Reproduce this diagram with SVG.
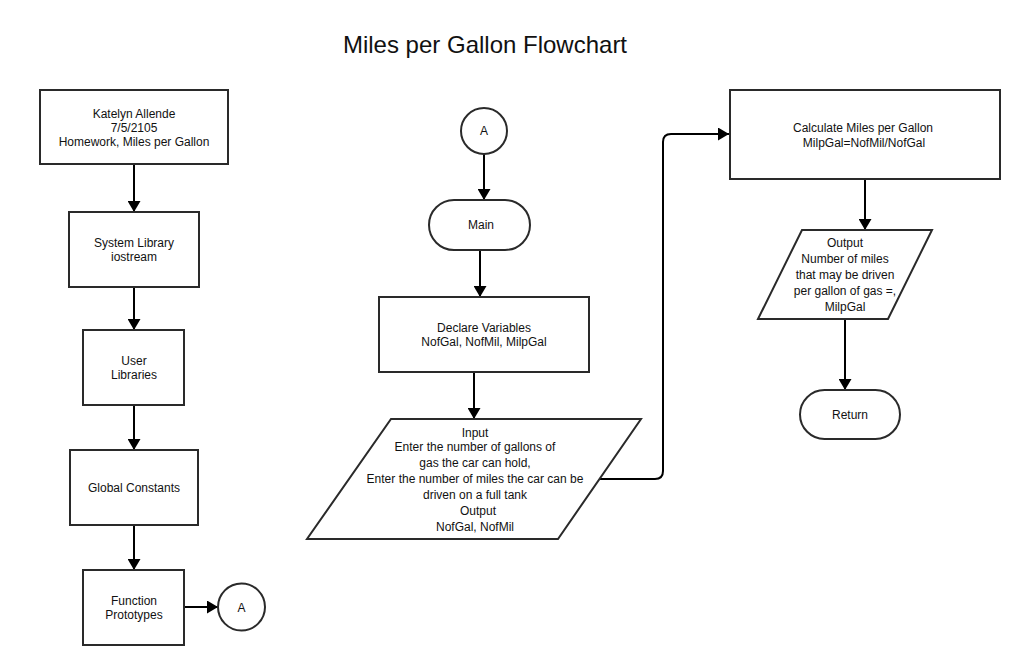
<svg xmlns="http://www.w3.org/2000/svg" width="1022" height="665" viewBox="0 0 1022 665">
<style>
.s{fill:#fff;stroke:#2a2a2a;stroke-width:2}
.t{font-family:"Liberation Sans",Arial,sans-serif;font-size:12px;fill:#111;text-anchor:middle}
.title{font-family:"Liberation Sans",Arial,sans-serif;font-size:24px;fill:#111;text-anchor:middle}
.c{fill:none;stroke:#000;stroke-width:2;marker-end:url(#ah)}
</style>
<defs>
<marker id="ah" markerUnits="userSpaceOnUse" markerWidth="12" markerHeight="13" refX="11" refY="6.5" orient="auto">
<path d="M0,0 L11,6.5 L0,13 z" fill="#000"/>
</marker>
</defs>
<rect width="1022" height="665" fill="#fff"/>
<text class="title" x="485" y="53">Miles per Gallon Flowchart</text>

<g id="connectors">
<path class="c" d="M134,164 V212"/>
<path class="c" d="M134,287 V330"/>
<path class="c" d="M134,405 V450"/>
<path class="c" d="M134,525 V570"/>
<path class="c" d="M184,607 H218"/>
<path class="c" d="M484,154 V200"/>
<path class="c" d="M480,250 V297"/>
<path class="c" d="M474,372 V419"/>
<path class="c" d="M599,479 H655 Q663,479 663,471 V142 Q663,134 671,134 H729"/>
<path class="c" d="M865,179 V230"/>
<path class="c" d="M845,319 V390"/>
</g>

<g id="header">
<rect class="s" x="40" y="90" width="188" height="74"/>
<text class="t" x="134" y="117.5">Katelyn Allende</text>
<text class="t" x="134" y="132">7/5/2105</text>
<text class="t" x="134" y="146">Homework, Miles per Gallon</text>
</g>
<g id="syslib">
<rect class="s" x="69" y="212" width="130" height="75"/>
<text class="t" x="134" y="247">System Library</text>
<text class="t" x="134" y="260.5">iostream</text>
</g>
<g id="userlib">
<rect class="s" x="83" y="330" width="101" height="75"/>
<text class="t" x="134" y="365">User</text>
<text class="t" x="134" y="378.5">Libraries</text>
</g>
<g id="globals">
<rect class="s" x="70" y="450" width="128" height="75"/>
<text class="t" x="134" y="491.5">Global Constants</text>
</g>
<g id="prototypes">
<rect class="s" x="83" y="570" width="101" height="75"/>
<text class="t" x="134" y="605">Function</text>
<text class="t" x="134" y="619">Prototypes</text>
</g>
<g id="connA1">
<circle class="s" cx="241.5" cy="607" r="23.5"/>
<text class="t" x="241.5" y="611.5">A</text>
</g>
<g id="connA2">
<circle class="s" cx="484" cy="131" r="23"/>
<text class="t" x="484" y="135">A</text>
</g>
<g id="main">
<rect class="s" x="429" y="200" width="101" height="50" rx="25" ry="25"/>
<text class="t" x="481" y="229">Main</text>
</g>
<g id="declare">
<rect class="s" x="379" y="297" width="210" height="75"/>
<text class="t" x="484" y="332">Declare Variables</text>
<text class="t" x="484" y="346">NofGal, NofMil, MilpGal</text>
</g>
<g id="input">
<polygon class="s" points="391,419 641,419 558,539 307,539"/>
<text class="t" x="475" y="437">Input</text>
<text class="t" x="475" y="451">Enter the number of gallons of</text>
<text class="t" x="475" y="467">gas the car can hold,</text>
<text class="t" x="475" y="483">Enter the number of miles the car can be</text>
<text class="t" x="475" y="499">driven on a full tank</text>
<text class="t" x="478" y="515">Output</text>
<text class="t" x="475" y="531">NofGal, NofMil</text>
</g>
<g id="calc">
<rect class="s" x="730" y="90" width="270" height="89"/>
<text class="t" x="863" y="132">Calculate Miles per Gallon</text>
<text class="t" x="864" y="147">MilpGal=NofMil/NofGal</text>
</g>
<g id="output">
<polygon class="s" points="802,230 932,230 888,319 758,319"/>
<text class="t" x="845" y="247">Output</text>
<text class="t" x="845" y="263">Number of miles</text>
<text class="t" x="845" y="278.5">that may be driven</text>
<text class="t" x="845" y="295">per gallon of gas =,</text>
<text class="t" x="845" y="311">MilpGal</text>
</g>
<g id="return">
<rect class="s" x="800" y="390" width="100" height="49" rx="24.5" ry="24.5"/>
<text class="t" x="850" y="418.5">Return</text>
</g>
</svg>
